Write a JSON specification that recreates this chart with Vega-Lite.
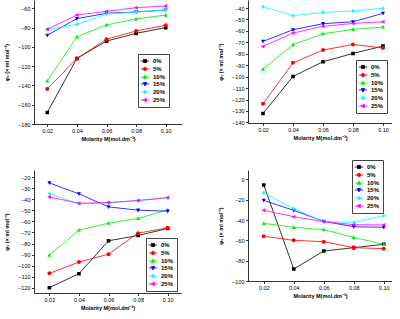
{
  "$schema": "https://vega.github.io/schema/vega-lite/v6.json",
  "padding": {"left": 4, "top": 0, "right": 0, "bottom": 0},
  "bounds": "flush",
  "columns": 2,
  "spacing": {"row": 46, "column": 66},
  "resolve": {"scale": {"color": "independent", "shape": "independent"}, "legend": {"color": "independent", "shape": "independent"}},
  "config": {
    "view": {"stroke": null},
    "axis": {"grid": false, "domainColor": "#000", "tickColor": "#000", "labelColor": "#000", "titleColor": "#000", "labelFont": "Liberation Sans", "titleFont": "Liberation Sans", "labelFontSize": 5.5, "titleFontSize": 5.5, "titleFontWeight": "bold", "tickSize": 2.5, "labelPadding": 1.5, "domainWidth": 0.8, "tickWidth": 0.8},
    "axisX": {"titlePadding": 3},
    "axisY": {"titlePadding": 8},
    "legend": {"labelFont": "Liberation Sans", "labelFontSize": 6, "labelFontWeight": "bold", "labelColor": "#000", "title": null, "strokeColor": "#444", "padding": 3, "symbolSize": 49, "rowPadding": 0, "labelOffset": 4, "symbolStrokeWidth": 0.8, "orient": "none"}
  },
  "datasets": {
    "p1": [
      {"M": 0.02, "phi": -168, "series": "0%"}, {"M": 0.04, "phi": -112, "series": "0%"}, {"M": 0.06, "phi": -94, "series": "0%"}, {"M": 0.08, "phi": -86, "series": "0%"}, {"M": 0.10, "phi": -80, "series": "0%"},
      {"M": 0.02, "phi": -143.6, "series": "5%"}, {"M": 0.04, "phi": -112, "series": "5%"}, {"M": 0.06, "phi": -92, "series": "5%"}, {"M": 0.08, "phi": -83.5, "series": "5%"}, {"M": 0.10, "phi": -77.6, "series": "5%"},
      {"M": 0.02, "phi": -135.3, "series": "10%"}, {"M": 0.04, "phi": -89.7, "series": "10%"}, {"M": 0.06, "phi": -77.3, "series": "10%"}, {"M": 0.08, "phi": -71, "series": "10%"}, {"M": 0.10, "phi": -67, "series": "10%"},
      {"M": 0.02, "phi": -88, "series": "15%"}, {"M": 0.04, "phi": -70.7, "series": "15%"}, {"M": 0.06, "phi": -65.2, "series": "15%"}, {"M": 0.08, "phi": -63.8, "series": "15%"}, {"M": 0.10, "phi": -61.8, "series": "15%"},
      {"M": 0.02, "phi": -82, "series": "20%"}, {"M": 0.04, "phi": -76.6, "series": "20%"}, {"M": 0.06, "phi": -65.9, "series": "20%"}, {"M": 0.08, "phi": -63.8, "series": "20%"}, {"M": 0.10, "phi": -61.8, "series": "20%"},
      {"M": 0.02, "phi": -81.8, "series": "25%"}, {"M": 0.04, "phi": -67, "series": "25%"}, {"M": 0.06, "phi": -63.1, "series": "25%"}, {"M": 0.08, "phi": -59.4, "series": "25%"}, {"M": 0.10, "phi": -57.6, "series": "25%"}
    ],
    "p2": [
      {"M": 0.02, "phi": -132.2, "series": "0%"}, {"M": 0.04, "phi": -99.8, "series": "0%"}, {"M": 0.06, "phi": -87, "series": "0%"}, {"M": 0.08, "phi": -79.7, "series": "0%"}, {"M": 0.10, "phi": -73.3, "series": "0%"},
      {"M": 0.02, "phi": -123.7, "series": "5%"}, {"M": 0.04, "phi": -87.9, "series": "5%"}, {"M": 0.06, "phi": -76.8, "series": "5%"}, {"M": 0.08, "phi": -71.8, "series": "5%"}, {"M": 0.10, "phi": -75, "series": "5%"},
      {"M": 0.02, "phi": -93.4, "series": "10%"}, {"M": 0.04, "phi": -72.1, "series": "10%"}, {"M": 0.06, "phi": -62.5, "series": "10%"}, {"M": 0.08, "phi": -58.7, "series": "10%"}, {"M": 0.10, "phi": -56.6, "series": "10%"},
      {"M": 0.02, "phi": -69.2, "series": "15%"}, {"M": 0.04, "phi": -59, "series": "15%"}, {"M": 0.06, "phi": -53.7, "series": "15%"}, {"M": 0.08, "phi": -52, "series": "15%"}, {"M": 0.10, "phi": -44.7, "series": "15%"},
      {"M": 0.02, "phi": -38.9, "series": "20%"}, {"M": 0.04, "phi": -46.7, "series": "20%"}, {"M": 0.06, "phi": -43.8, "series": "20%"}, {"M": 0.08, "phi": -42.6, "series": "20%"}, {"M": 0.10, "phi": -40.3, "series": "20%"},
      {"M": 0.02, "phi": -73.6, "series": "25%"}, {"M": 0.04, "phi": -61.9, "series": "25%"}, {"M": 0.06, "phi": -56, "series": "25%"}, {"M": 0.08, "phi": -53.5, "series": "25%"}, {"M": 0.10, "phi": -52, "series": "25%"}
    ],
    "p3": [
      {"M": 0.02, "phi": -120, "series": "0%"}, {"M": 0.04, "phi": -107.3, "series": "0%"}, {"M": 0.06, "phi": -77.5, "series": "0%"}, {"M": 0.08, "phi": -72.7, "series": "0%"}, {"M": 0.10, "phi": -66.4, "series": "0%"},
      {"M": 0.02, "phi": -107, "series": "5%"}, {"M": 0.04, "phi": -96.8, "series": "5%"}, {"M": 0.06, "phi": -89.6, "series": "5%"}, {"M": 0.08, "phi": -70.6, "series": "5%"}, {"M": 0.10, "phi": -65.8, "series": "5%"},
      {"M": 0.02, "phi": -90.5, "series": "10%"}, {"M": 0.04, "phi": -67.9, "series": "10%"}, {"M": 0.06, "phi": -61.6, "series": "10%"}, {"M": 0.08, "phi": -57.3, "series": "10%"}, {"M": 0.10, "phi": -49.5, "series": "10%"},
      {"M": 0.02, "phi": -25.1, "series": "15%"}, {"M": 0.04, "phi": -35, "series": "15%"}, {"M": 0.06, "phi": -46.8, "series": "15%"}, {"M": 0.08, "phi": -49.8, "series": "15%"}, {"M": 0.10, "phi": -50.7, "series": "15%"},
      {"M": 0.02, "phi": -34.8, "series": "20%"}, {"M": 0.04, "phi": -44.1, "series": "20%"}, {"M": 0.06, "phi": -43.2, "series": "20%"}, {"M": 0.08, "phi": -41, "series": "20%"}, {"M": 0.10, "phi": -39, "series": "20%"},
      {"M": 0.02, "phi": -37.8, "series": "25%"}, {"M": 0.04, "phi": -43.5, "series": "25%"}, {"M": 0.06, "phi": -42.9, "series": "25%"}, {"M": 0.08, "phi": -41, "series": "25%"}, {"M": 0.10, "phi": -38.4, "series": "25%"}
    ],
    "p4": [
      {"M": 0.02, "phi": -5.6, "series": "0%"}, {"M": 0.04, "phi": -88.2, "series": "0%"}, {"M": 0.06, "phi": -70.5, "series": "0%"}, {"M": 0.08, "phi": -67.2, "series": "0%"}, {"M": 0.10, "phi": -63.9, "series": "0%"},
      {"M": 0.02, "phi": -56, "series": "5%"}, {"M": 0.04, "phi": -60, "series": "5%"}, {"M": 0.06, "phi": -61.3, "series": "5%"}, {"M": 0.08, "phi": -67.2, "series": "5%"}, {"M": 0.10, "phi": -68.2, "series": "5%"},
      {"M": 0.02, "phi": -43.3, "series": "10%"}, {"M": 0.04, "phi": -47.2, "series": "10%"}, {"M": 0.06, "phi": -49.5, "series": "10%"}, {"M": 0.08, "phi": -57, "series": "10%"}, {"M": 0.10, "phi": -64, "series": "10%"},
      {"M": 0.02, "phi": -20.7, "series": "15%"}, {"M": 0.04, "phi": -30.5, "series": "15%"}, {"M": 0.06, "phi": -41.3, "series": "15%"}, {"M": 0.08, "phi": -46.6, "series": "15%"}, {"M": 0.10, "phi": -47.2, "series": "15%"},
      {"M": 0.02, "phi": -13.4, "series": "20%"}, {"M": 0.04, "phi": -28.9, "series": "20%"}, {"M": 0.06, "phi": -41.6, "series": "20%"}, {"M": 0.08, "phi": -42.3, "series": "20%"}, {"M": 0.10, "phi": -35.7, "series": "20%"},
      {"M": 0.02, "phi": -30.5, "series": "25%"}, {"M": 0.04, "phi": -36.7, "series": "25%"}, {"M": 0.06, "phi": -41.6, "series": "25%"}, {"M": 0.08, "phi": -44.6, "series": "25%"}, {"M": 0.10, "phi": -44.9, "series": "25%"}
    ]
  },
  "concat": [
    {
      "width": 148, "height": 124,
      "data": {"name": "p1"},
      "encoding": {
        "x": {"field": "M", "type": "quantitative", "scale": {"domain": [0.011, 0.111], "nice": false, "zero": false}, "axis": {"values": [0.02, 0.04, 0.06, 0.08, 0.1], "format": ".2f", "title": "Molarity M(mol.dm⁻³)"}},
        "y": {"field": "phi", "type": "quantitative", "scale": {"domain": [-180, -51.4], "nice": false, "zero": false}, "axis": {"values": [-180, -160, -140, -120, -100, -80, -60], "title": "φᵥ (× ml mol⁻¹)"}},
        "color": {"field": "series", "type": "nominal", "scale": {"domain": ["0%", "5%", "10%", "15%", "20%", "25%"], "range": ["#000000", "#ff0000", "#00ee00", "#0000ff", "#00ffff", "#ff00ff"]},
          "legend": {"legendX": 104, "legendY": 54}}
      },
      "layer": [
        {"mark": {"type": "line", "strokeWidth": 0.8}},
        {"mark": {"type": "point", "filled": true, "size": 64, "opacity": 1},
         "encoding": {
           "shape": {"field": "series", "type": "nominal", "scale": {"domain": ["0%", "5%", "10%", "15%", "20%", "25%"], "range": ["M-1.2,0H1.2M-0.45,-0.45H0.45V0.45H-0.45Z", "M-1.2,0H1.2M-0.5,0A0.5,0.5 0 1,0 0.5,0A0.5,0.5 0 1,0 -0.5,0Z", "M-1.2,0H1.2M0,-0.55L0.5,0.4H-0.5Z", "M-1.2,0H1.2M0,0.55L0.5,-0.4H-0.5Z", "M-1.2,0H1.2M0,-0.55L0.42,0L0,0.55L-0.42,0Z", "M-1.2,0H1.2M-0.55,0L0.4,-0.5V0.5Z"]},
             "legend": {"legendX": 104, "legendY": 54}}
         }}
      ]
    },
    {
      "width": 144, "height": 123,
      "data": {"name": "p2"},
      "encoding": {
        "x": {"field": "M", "type": "quantitative", "scale": {"domain": [0.01, 0.106], "nice": false, "zero": false}, "axis": {"values": [0.02, 0.04, 0.06, 0.08, 0.1], "format": ".2f", "title": "Molarity M(mol.dm⁻³)"}},
        "y": {"field": "phi", "type": "quantitative", "scale": {"domain": [-140.5, -33], "nice": false, "zero": false}, "axis": {"values": [-140, -130, -120, -110, -100, -90, -80, -70, -60, -50, -40], "title": "φᵥ (× ml mol⁻¹)"}},
        "color": {"field": "series", "type": "nominal", "scale": {"domain": ["0%", "5%", "10%", "15%", "20%", "25%"], "range": ["#000000", "#ff0000", "#00ee00", "#0000ff", "#00ffff", "#ff00ff"]},
          "legend": {"legendX": 108, "legendY": 60}}
      },
      "layer": [
        {"mark": {"type": "line", "strokeWidth": 0.8}},
        {"mark": {"type": "point", "filled": true, "size": 64, "opacity": 1},
         "encoding": {
           "shape": {"field": "series", "type": "nominal", "scale": {"domain": ["0%", "5%", "10%", "15%", "20%", "25%"], "range": ["M-1.2,0H1.2M-0.45,-0.45H0.45V0.45H-0.45Z", "M-1.2,0H1.2M-0.5,0A0.5,0.5 0 1,0 0.5,0A0.5,0.5 0 1,0 -0.5,0Z", "M-1.2,0H1.2M0,-0.55L0.5,0.4H-0.5Z", "M-1.2,0H1.2M0,0.55L0.5,-0.4H-0.5Z", "M-1.2,0H1.2M0,-0.55L0.42,0L0,0.55L-0.42,0Z", "M-1.2,0H1.2M-0.55,0L0.4,-0.5V0.5Z"]},
             "legend": {"legendX": 108, "legendY": 60}}
         }}
      ]
    },
    {
      "width": 147, "height": 123,
      "data": {"name": "p3"},
      "encoding": {
        "x": {"field": "M", "type": "quantitative", "scale": {"domain": [0.0096, 0.109], "nice": false, "zero": false}, "axis": {"values": [0.02, 0.04, 0.06, 0.08, 0.1], "format": ".2f", "title": "Molarity M(mol.dm⁻³)"}},
        "y": {"field": "phi", "type": "quantitative", "scale": {"domain": [-124.8, -13.4], "nice": false, "zero": false}, "axis": {"values": [-120, -110, -100, -90, -80, -70, -60, -50, -40, -30, -20], "title": "φᵥ (× ml mol⁻¹)"}},
        "color": {"field": "series", "type": "nominal", "scale": {"domain": ["0%", "5%", "10%", "15%", "20%", "25%"], "range": ["#000000", "#ff0000", "#00ee00", "#0000ff", "#00ffff", "#ff00ff"]},
          "legend": {"legendX": 112, "legendY": 68}}
      },
      "layer": [
        {"mark": {"type": "line", "strokeWidth": 0.8}},
        {"mark": {"type": "point", "filled": true, "size": 64, "opacity": 1},
         "encoding": {
           "shape": {"field": "series", "type": "nominal", "scale": {"domain": ["0%", "5%", "10%", "15%", "20%", "25%"], "range": ["M-1.2,0H1.2M-0.45,-0.45H0.45V0.45H-0.45Z", "M-1.2,0H1.2M-0.5,0A0.5,0.5 0 1,0 0.5,0A0.5,0.5 0 1,0 -0.5,0Z", "M-1.2,0H1.2M0,-0.55L0.5,0.4H-0.5Z", "M-1.2,0H1.2M0,0.55L0.5,-0.4H-0.5Z", "M-1.2,0H1.2M0,-0.55L0.42,0L0,0.55L-0.42,0Z", "M-1.2,0H1.2M-0.55,0L0.4,-0.5V0.5Z"]},
             "legend": {"legendX": 112, "legendY": 68}}
         }}
      ]
    },
    {
      "width": 144, "height": 111,
      "data": {"name": "p4"},
      "encoding": {
        "x": {"field": "M", "type": "quantitative", "scale": {"domain": [0.0095, 0.1055], "nice": false, "zero": false}, "axis": {"values": [0.02, 0.04, 0.06, 0.08, 0.1], "format": ".2f", "title": "Molarity M(mol.dm⁻³)"}},
        "y": {"field": "phi", "type": "quantitative", "scale": {"domain": [-100, 9.2], "nice": false, "zero": false}, "axis": {"values": [-100, -80, -60, -40, -20, 0], "title": "φᵥ (× ml mol⁻¹)"}},
        "color": {"field": "series", "type": "nominal", "scale": {"domain": ["0%", "5%", "10%", "15%", "20%", "25%"], "range": ["#000000", "#ff0000", "#00ee00", "#0000ff", "#00ffff", "#ff00ff"]},
          "legend": {"legendX": 104, "legendY": -10}}
      },
      "layer": [
        {"mark": {"type": "line", "strokeWidth": 0.8}},
        {"mark": {"type": "point", "filled": true, "size": 64, "opacity": 1},
         "encoding": {
           "shape": {"field": "series", "type": "nominal", "scale": {"domain": ["0%", "5%", "10%", "15%", "20%", "25%"], "range": ["M-1.2,0H1.2M-0.45,-0.45H0.45V0.45H-0.45Z", "M-1.2,0H1.2M-0.5,0A0.5,0.5 0 1,0 0.5,0A0.5,0.5 0 1,0 -0.5,0Z", "M-1.2,0H1.2M0,-0.55L0.5,0.4H-0.5Z", "M-1.2,0H1.2M0,0.55L0.5,-0.4H-0.5Z", "M-1.2,0H1.2M0,-0.55L0.42,0L0,0.55L-0.42,0Z", "M-1.2,0H1.2M-0.55,0L0.4,-0.5V0.5Z"]},
             "legend": {"legendX": 104, "legendY": -10}}
         }}
      ]
    }
  ]
}
